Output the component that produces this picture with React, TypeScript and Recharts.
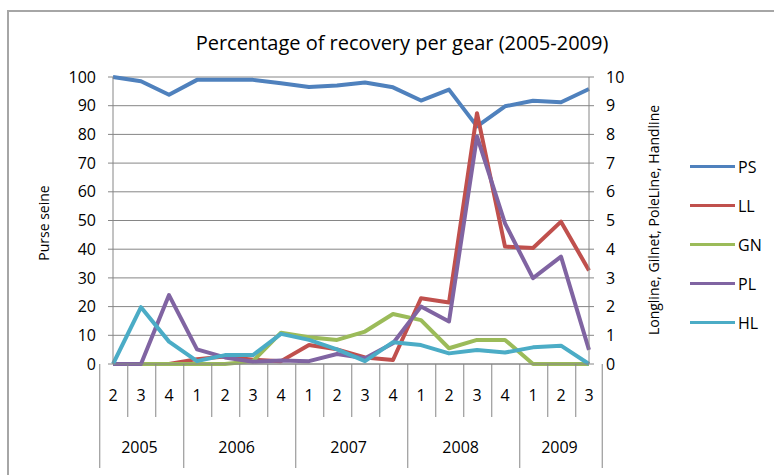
import React from 'react';
import { LineChart, Line, XAxis, YAxis, CartesianGrid, Legend } from 'recharts';

// Quarter / year labels for the two-level category axis
const quarters = ['2', '3', '4', '1', '2', '3', '4', '1', '2', '3', '4', '1', '2', '3', '4', '1', '2', '3'];
const years = [
    '2005', '2005', '2005',
    '2006', '2006', '2006', '2006',
    '2007', '2007', '2007', '2007',
    '2008', '2008', '2008', '2008',
    '2009', '2009', '2009',
];

// Purse seine, left axis (%)
const ps = [100, 98.5, 93.8, 99, 99, 99, 97.8, 96.5, 97, 98.1, 96.4, 91.8, 95.6, 82.8, 89.8, 91.7, 91.2, 95.8];
// Other gears, right axis
const ll = [0, 0, 0, 0.17, 0.26, 0.15, 0.1, 0.66, 0.51, 0.23, 0.14, 2.29, 2.14, 8.74, 4.09, 4.04, 4.96, 3.26];
const gn = [0, 0, 0, 0, 0, 0.1, 1.09, 0.93, 0.84, 1.13, 1.74, 1.53, 0.55, 0.84, 0.84, 0, 0, 0];
const pl = [0, 0, 2.4, 0.51, 0.23, 0.08, 0.12, 0.1, 0.35, 0.2, 0.72, 2.0, 1.48, 7.93, 4.9, 2.99, 3.74, 0.49];
const hl = [0, 1.98, 0.78, 0.1, 0.31, 0.31, 1.05, 0.84, 0.51, 0.1, 0.76, 0.66, 0.37, 0.49, 0.4, 0.58, 0.64, 0];

const psTicks = [0, 10, 20, 30, 40, 50, 60, 70, 80, 90, 100];
const gearTicks = [0, 1, 2, 3, 4, 5, 6, 7, 8, 9, 10];

// Series in drawing / legend order
const series = [
    { key: 'PS', axis: 'ps', color: '#4F81BD' },
    { key: 'LL', axis: 'gear', color: '#C0504D' },
    { key: 'GN', axis: 'gear', color: '#9BBB59' },
    { key: 'PL', axis: 'gear', color: '#8064A2' },
    { key: 'HL', axis: 'gear', color: '#4BACC6' },
];

const data = quarters.map((q, i) => ({
    key: `${years[i]}-${q}`,
    quarter: q,
    PS: ps[i],
    LL: ll[i],
    GN: gn[i],
    PL: pl[i],
    HL: hl[i],
}));

const WIDTH = 774;
const HEIGHT = 475;
const PLOT_W = 476;
const BAND = PLOT_W / quarters.length;
const GRID = '#868686';
const FONT = '"Open Sans", sans-serif';

const QuarterTick = (props: any) => {
    const { x, y } = props;
    const i: number = props.payload?.index ?? props.index;
    const left = x - BAND / 2;
    const groupStart = i === 0 || years[i] !== years[i - 1];
    const last = i === quarters.length - 1;
    let groupSize = 0;
    if (groupStart) {
        while (years[i + groupSize] === years[i]) groupSize++;
    }
    return (
        <g>
            <line x1={left} x2={left} y1={y} y2={y + (groupStart ? 104 : 53)} stroke={GRID} />
            {last && <line x1={left + BAND} x2={left + BAND} y1={y} y2={y + 104} stroke={GRID} />}
            <text x={x} y={y + 37} textAnchor="middle" fontSize={16} fill="#000">
                {quarters[i]}
            </text>
            {groupStart && (
                <text x={left + (groupSize * BAND) / 2} y={y + 89} textAnchor="middle" fontSize={16} fill="#000">
                    {years[i]}
                </text>
            )}
        </g>
    );
};

// Legend keeps series order instead of the default alphabetical sort
const renderLegend = () => (
    <div style={{ fontFamily: FONT }}>
        {series.map((s) => (
            <div key={s.key} style={{ display: 'flex', alignItems: 'center', height: 39 }}>
                <span style={{ display: 'inline-block', width: 45, height: 3, background: s.color }} />
                <span style={{ marginLeft: 3, fontSize: 16, color: '#000' }}>{s.key}</span>
            </div>
        ))}
    </div>
);

export default function App() {
    return (
        <div
            style={{
                position: 'absolute',
                left: 0,
                top: 0,
                width: WIDTH,
                height: HEIGHT,
                overflow: 'hidden',
                background: '#fff',
                fontFamily: FONT,
            }}
        >
            <div
                style={{
                    position: 'absolute',
                    left: 7,
                    top: 10,
                    width: 820,
                    height: 520,
                    border: '2px solid #a6a6a6',
                }}
            />
            <div style={{ position: 'absolute', left: 0, top: 0 }}>
                <LineChart
                    width={WIDTH}
                    height={HEIGHT}
                    data={data}
                    margin={{ top: 77, right: 125, bottom: 6, left: 53 }}
                >
                    <CartesianGrid yAxisId="ps" vertical={false} stroke={GRID} />
                    <XAxis
                        dataKey="key"
                        interval={0}
                        height={105}
                        tickSize={0}
                        tickMargin={0}
                        tickLine={false}
                        axisLine={{ stroke: GRID }}
                        tick={<QuarterTick />}
                    />
                    <YAxis
                        yAxisId="ps"
                        domain={[0, 100]}
                        ticks={psTicks}
                        width={60}
                        tickSize={5}
                        tickMargin={12}
                        axisLine={{ stroke: GRID }}
                        tickLine={{ stroke: GRID }}
                        tick={{ fill: '#000', fontSize: 16 }}
                    />
                    <YAxis
                        yAxisId="gear"
                        orientation="right"
                        domain={[0, 10]}
                        ticks={gearTicks}
                        width={60}
                        tickSize={5}
                        tickMargin={12}
                        axisLine={{ stroke: GRID }}
                        tickLine={{ stroke: GRID }}
                        tick={{ fill: '#000', fontSize: 16 }}
                    />
                    {series.map((s) => (
                        <Line
                            key={s.key}
                            yAxisId={s.axis}
                            dataKey={s.key}
                            name={s.key}
                            stroke={s.color}
                            strokeWidth={4}
                            strokeLinejoin="round"
                            dot={false}
                            isAnimationActive={false}
                        />
                    ))}
                    <Legend
                        layout="vertical"
                        align="center"
                        verticalAlign="middle"
                        content={renderLegend}
                        wrapperStyle={{ left: 690, top: 147, width: 80 }}
                    />
                    <text x={402} y={50} textAnchor="middle" fontSize={20} fill="#000">
                        Percentage of recovery per gear (2005-2009)
                    </text>
                    <text transform="translate(43,223) rotate(-90)" textAnchor="middle" dominantBaseline="central" fontSize={14} fill="#000">
                        Purse seine
                    </text>
                    <text transform="translate(653,220) rotate(-90)" textAnchor="middle" dominantBaseline="central" fontSize={14} fill="#000">
                        Longline, Gilnet, PoleLine, Handline
                    </text>
                </LineChart>
            </div>
        </div>
    );
}
